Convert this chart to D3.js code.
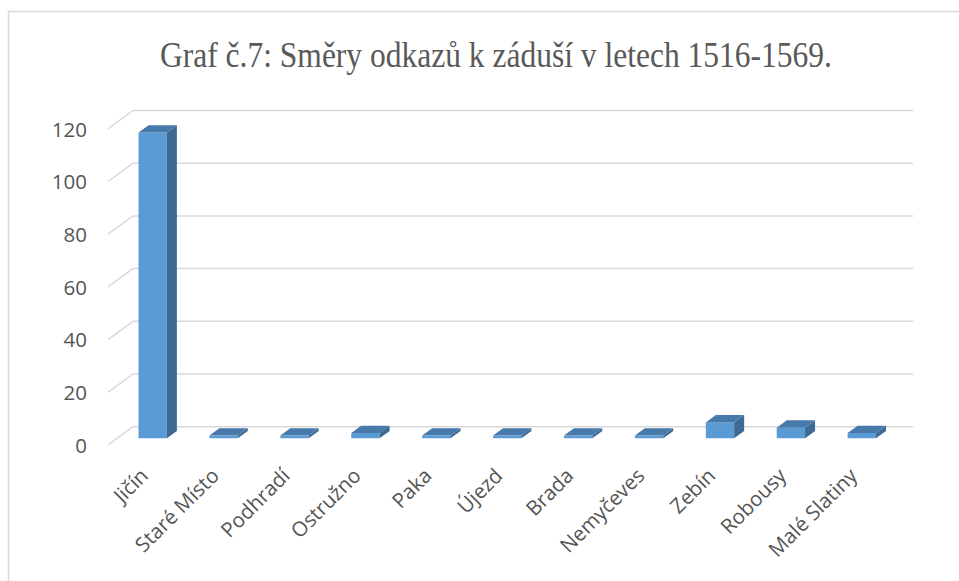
<!DOCTYPE html>
<html>
<head>
<meta charset="utf-8">
<script src="https://cdn.jsdelivr.net/npm/d3@7"></script>
<style>
  body { margin: 0; background: #fff; }
  svg { display: block; }
</style>
</head>
<body>
<svg id="chart" width="959" height="581"></svg>
<script>
// data
const categories = ["Jičín", "Staré Místo", "Podhradí", "Ostružno", "Paka", "Újezd",
  "Brada", "Nemyčeves", "Zebín", "Robousy", "Malé Slatiny"];
const values = [116, 1, 1, 2, 1, 1, 1, 1, 6, 4, 2];
const yTicks = [0, 20, 40, 60, 80, 100, 120];
const title = "Graf č.7: Směry odkazů k záduší v letech 1516-1569.";

const labelFont = "'Open Sans', 'Noto Sans', sans-serif";
const svg = d3.select("#chart");

// outer frame (right and bottom edges fall outside the picture)
svg.append("rect")
  .attr("x", 8.5).attr("y", 11.5)
  .attr("width", 1000).attr("height", 700)
  .attr("fill", "#fff")
  .attr("stroke", "#d9d9d9")
  .attr("stroke-width", 1.5);

// title - condensed serif, like the original
svg.append("text")
  .attr("x", 496)
  .attr("y", 67)
  .attr("text-anchor", "middle")
  .attr("textLength", 672)
  .attr("lengthAdjust", "spacingAndGlyphs")
  .style("font-family", "'Liberation Serif', 'Times New Roman', serif")
  .style("font-size", "36px")
  .style("fill", "#595959")
  .text(title);

// 3D depth vector (front plane -> back wall)
const depth = { dx: 25, dy: -18.3 };

const x = d3.scaleBand()
  .domain(categories)
  .range([108, 888])
  .paddingInner(0.6)
  .paddingOuter(0.3);

const y = d3.scaleLinear()
  .domain([0, 120])
  .range([445, 128.8]);

// gridlines: side wall slant + back wall
const grid = svg.append("g").attr("stroke", "#d9d9d9").attr("stroke-width", 1.5).attr("fill", "none");
grid.selectAll(".side")
  .data(yTicks)
  .enter().append("line")
  .attr("x1", 108).attr("y1", d => y(d))
  .attr("x2", 108 + depth.dx).attr("y2", d => y(d) + depth.dy);
grid.selectAll(".back")
  .data(yTicks)
  .enter().append("line")
  .attr("x1", 108 + depth.dx).attr("y1", d => y(d) + depth.dy)
  .attr("x2", 888 + depth.dx).attr("y2", d => y(d) + depth.dy);

// y axis labels
svg.append("g")
  .attr("transform", "translate(87,0)")
  .call(d3.axisLeft(y).tickValues(yTicks).tickSize(0).tickPadding(0))
  .call(g => g.select(".domain").remove())
  .call(g => g.attr("font-family", null).attr("font-size", null))
  .selectAll("text")
  .attr("font-family", labelFont)
  .attr("font-size", "20.5px")
  .attr("fill", "#555")
  .attr("dy", "0.36em");

// bars as 3D boxes
const f0 = 0.37, f1 = 0.77; // depth position of the box
const bars = svg.append("g");
categories.forEach((c, i) => {
  const v = values[i];
  const x0 = x(c) + f0 * depth.dx;
  const w = x.bandwidth();
  const yb = y(0) + f0 * depth.dy;
  const yt = y(v) + f0 * depth.dy;
  const ddx = (f1 - f0) * depth.dx, ddy = (f1 - f0) * depth.dy;
  // front
  bars.append("path")
    .attr("d", `M${x0},${yb}L${x0 + w},${yb}L${x0 + w},${yt}L${x0},${yt}Z`)
    .attr("fill", "#5b9bd5");
  // side
  bars.append("path")
    .attr("d", `M${x0 + w},${yb}L${x0 + w + ddx},${yb + ddy}L${x0 + w + ddx},${yt + ddy}L${x0 + w},${yt}Z`)
    .attr("fill", "#3d6a93");
  // top
  bars.append("path")
    .attr("d", `M${x0},${yt}L${x0 + w},${yt}L${x0 + w + ddx},${yt + ddy}L${x0 + ddx},${yt + ddy}Z`)
    .attr("fill", "#4779aa");
});

// category labels, rotated
svg.append("g")
  .selectAll("text")
  .data(categories)
  .enter().append("text")
  .attr("transform", d => `translate(${x(d) + x.bandwidth() / 2 + 6},477) rotate(-45)`)
  .attr("text-anchor", "end")
  .attr("font-family", labelFont)
  .attr("font-size", "20.5px")
  .attr("fill", "#555")
  .text(d => d);
</script>
</body>
</html>
